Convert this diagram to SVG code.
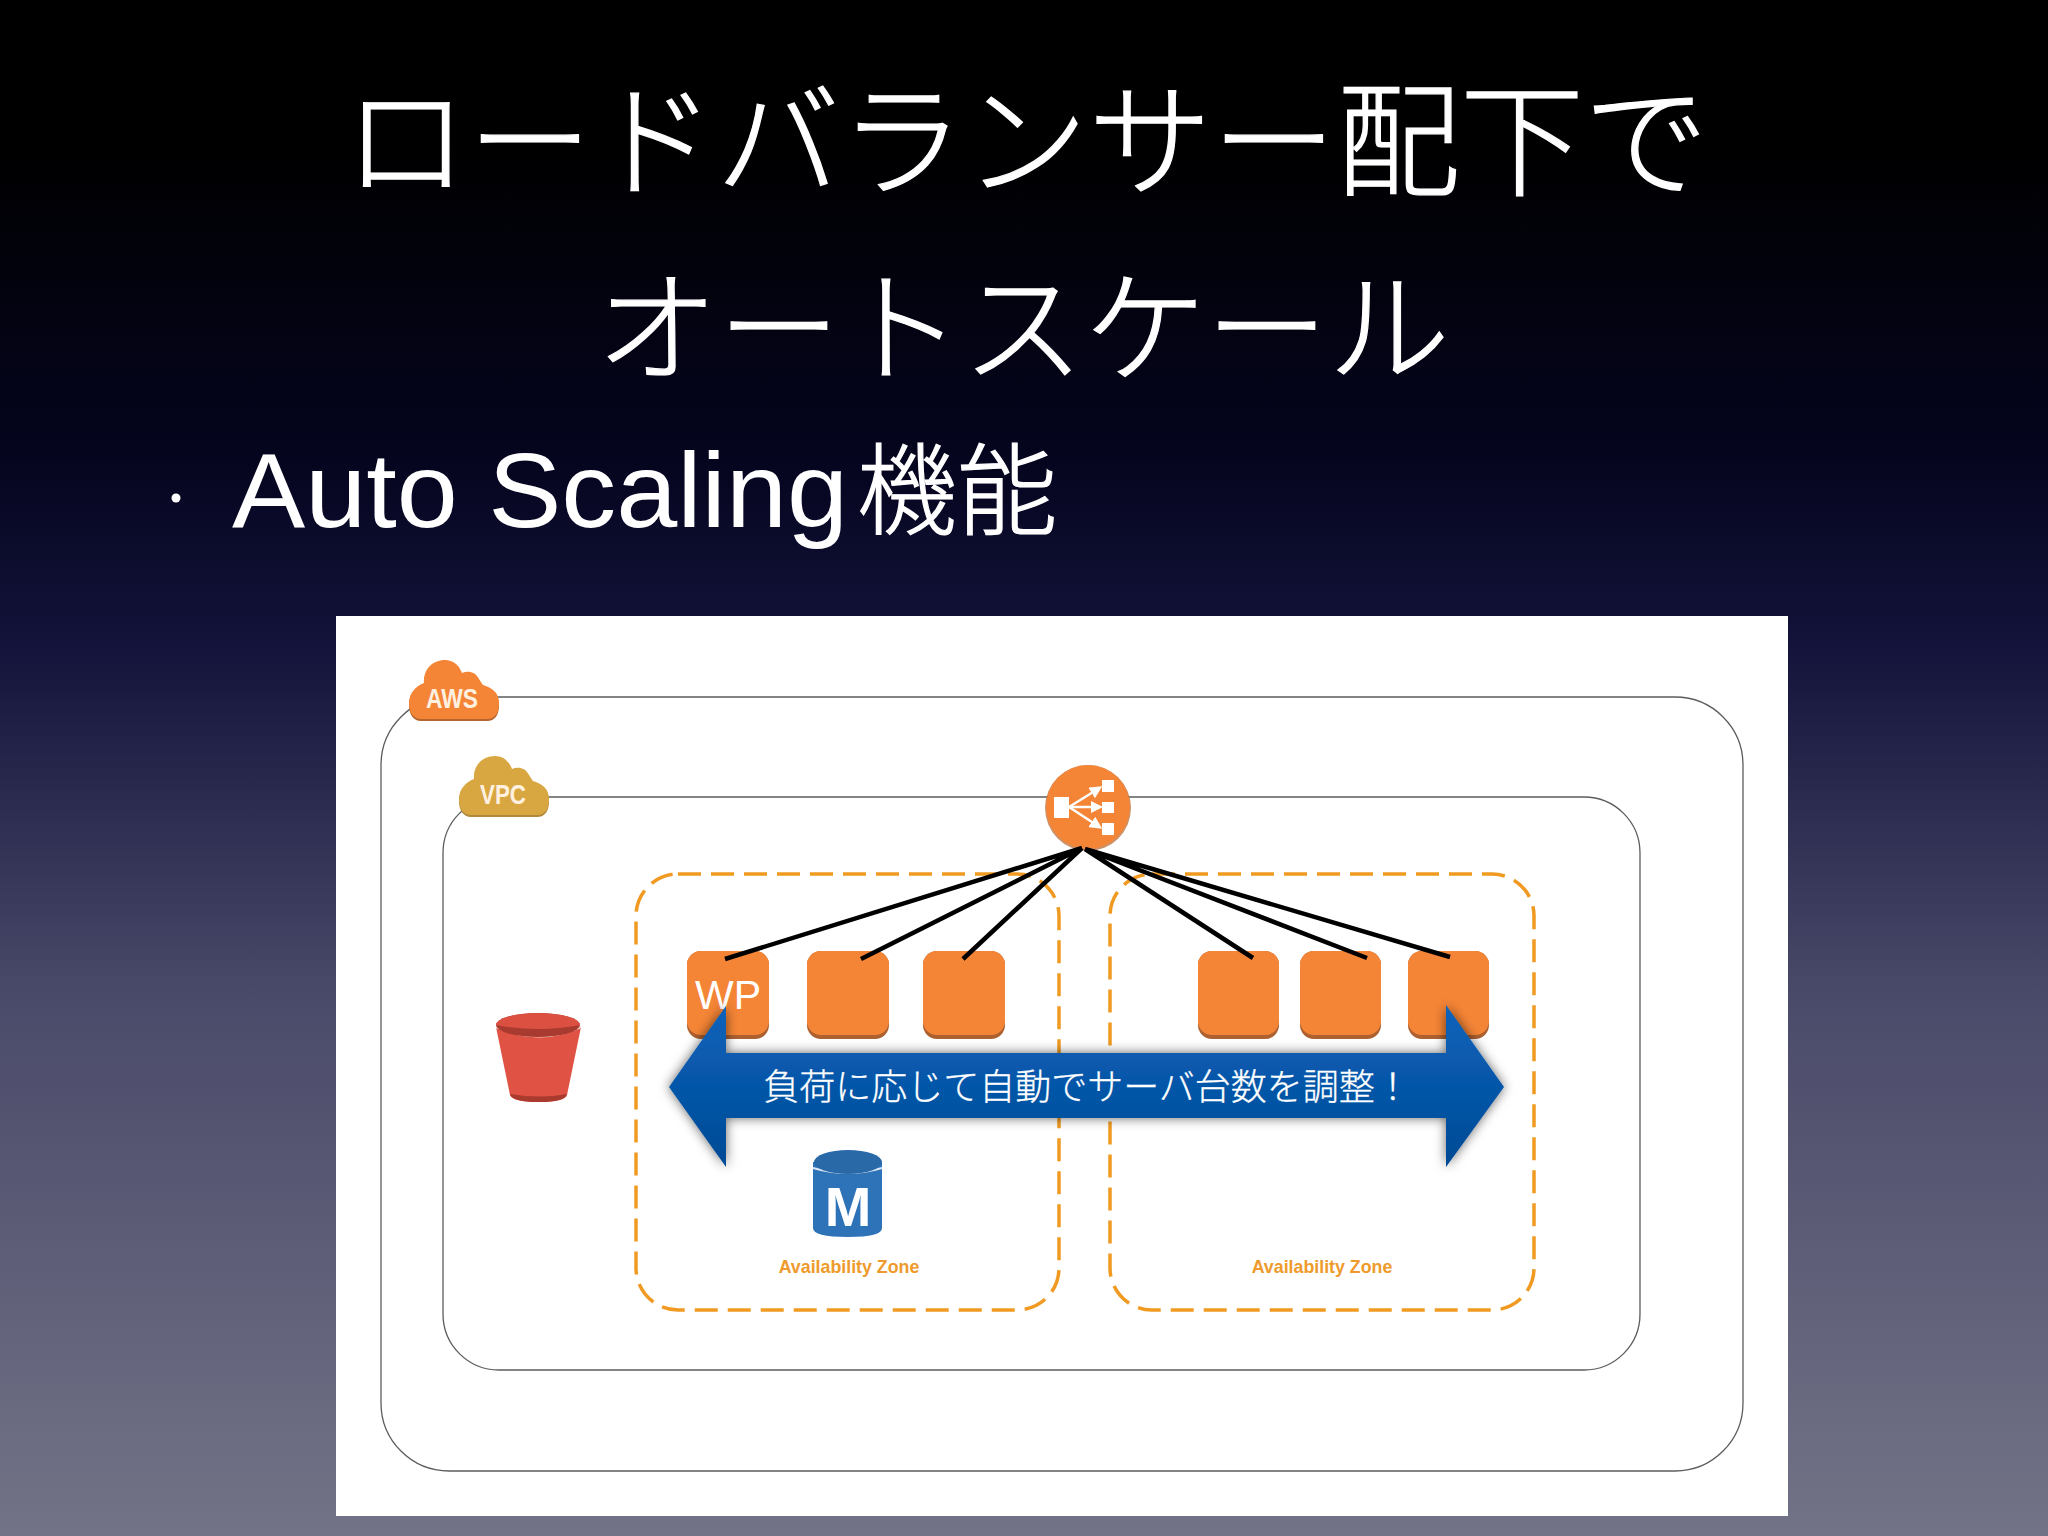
<svg xmlns="http://www.w3.org/2000/svg" xmlns:xlink="http://www.w3.org/1999/xlink" width="2048" height="1536" viewBox="0 0 2048 1536">
<style>
.jp{font-family:"Noto Sans CJK JP","Noto Sans",sans-serif;font-weight:300;fill:#fff;stroke:#fff;stroke-width:1.2}
.lat{font-family:"Liberation Sans",Arial,sans-serif;font-weight:400;fill:#fff}
.frame{fill:#fff;stroke:#5c5c5c;stroke-width:1.3}
.az{fill:none;stroke:#f09a22;stroke-width:3.5;stroke-dasharray:23 10}
.az-label{font-family:"Liberation Sans",Arial,sans-serif;font-weight:700;font-size:17.8px;fill:#ee9a2c;text-anchor:middle}
.srv{fill:#f58536}
.srv-s{fill:#ad6030}
.conn{stroke:#000;stroke-width:4.5;fill:none}
.cloud-label{font-family:"Liberation Sans",Arial,sans-serif;font-weight:700;fill:#fff0e0;font-size:28px}
</style>
<defs>
<linearGradient id="bg" x1="0" y1="0" x2="0" y2="1">
<stop offset="0" stop-color="#000"/>
<stop offset="0.09" stop-color="#000"/>
<stop offset="0.3" stop-color="#05051f"/>
<stop offset="0.42" stop-color="#13133b"/>
<stop offset="0.65" stop-color="#4a4a6a"/>
<stop offset="1" stop-color="#737387"/>
</linearGradient>
<linearGradient id="arrowFill" x1="0" y1="0" x2="0" y2="1">
<stop offset="0" stop-color="#0a63bb"/>
<stop offset="0.5" stop-color="#0656a8"/>
<stop offset="1" stop-color="#034a94"/>
</linearGradient>
<filter id="shadow" x="-5%" y="-15%" width="110%" height="130%">
<feDropShadow dx="0" dy="0" stdDeviation="6" flood-color="#000" flood-opacity="0.6"/>
</filter>
<marker id="lbHead" markerWidth="5" markerHeight="5" refX="3" refY="2.5" orient="auto"><path d="M0 0L5 2.5L0 5Z" fill="#fff"/></marker>
<path id="cloud" d="M12 59C4 59 0 52 0 43C0 33 7 26 15 23C14 9 24 0 36 0C44 0 50 5 53 13C59 10 67 12 70 19C72 22 73 24 74 25C84 28 90 33 90 43C90 53 86 59 78 59Z"/>
</defs>
<rect id="background" width="2048" height="1536" fill="url(#bg)"/>
<g id="title">
<text class="jp" x="1026" y="186" font-size="124" text-anchor="middle">ロードバランサー配下で</text>
<text class="jp" x="1023" y="372" font-size="122" text-anchor="middle">オートスケール</text>
</g>
<g id="bullet">
<circle cx="176" cy="498" r="4.5" fill="#fff"/>
<text class="lat" x="232" y="527" font-size="106" textLength="616" lengthAdjust="spacingAndGlyphs">Auto Scaling</text>
<text class="jp" x="857" y="527" font-size="100">機能</text>
</g>
<rect id="panel" x="336" y="616" width="1452" height="900" fill="#fff"/>
<g id="aws-frame"><rect class="frame" x="381" y="697" width="1362" height="774" rx="68"/></g>
<g id="vpc-frame"><rect class="frame" x="443" y="797" width="1197" height="573" rx="56"/></g>
<g id="az-left"><rect class="az" x="636" y="874" width="423" height="436" rx="42"/><text class="az-label" x="849" y="1273">Availability Zone</text></g>
<g id="az-right"><rect class="az" x="1110" y="874" width="424" height="436" rx="42"/><text class="az-label" x="1322" y="1273">Availability Zone</text></g>
<g id="aws-cloud">
<use xlink:href="#cloud" href="#cloud" x="409" y="662" fill="#b5652e"/>
<use xlink:href="#cloud" href="#cloud" x="409" y="660" fill="#f58536"/>
<text class="cloud-label" x="426" y="708" textLength="52" lengthAdjust="spacingAndGlyphs">AWS</text>
</g>
<g id="vpc-cloud">
<use xlink:href="#cloud" href="#cloud" x="459" y="758" fill="#b08a3a"/>
<use xlink:href="#cloud" href="#cloud" x="459" y="756" fill="#d9a741"/>
<text class="cloud-label" x="480" y="804" textLength="46" lengthAdjust="spacingAndGlyphs">VPC</text>
</g>
<g id="servers">
<g id="server-wp"><rect class="srv-s" x="687" y="951" width="82" height="88" rx="14"/><rect class="srv" x="687" y="951" width="82" height="84" rx="14"/>
<text x="728" y="1009" text-anchor="middle" font-size="41" font-family="'Liberation Sans',Arial,sans-serif" fill="#fff">WP</text></g>
<g id="server-2"><rect class="srv-s" x="807" y="951" width="82" height="88" rx="14"/><rect class="srv" x="807" y="951" width="82" height="84" rx="14"/></g>
<g id="server-3"><rect class="srv-s" x="923" y="951" width="82" height="88" rx="14"/><rect class="srv" x="923" y="951" width="82" height="84" rx="14"/></g>
<g id="server-4"><rect class="srv-s" x="1198" y="951" width="81" height="88" rx="14"/><rect class="srv" x="1198" y="951" width="81" height="84" rx="14"/></g>
<g id="server-5"><rect class="srv-s" x="1300" y="951" width="81" height="88" rx="14"/><rect class="srv" x="1300" y="951" width="81" height="84" rx="14"/></g>
<g id="server-6"><rect class="srv-s" x="1408" y="951" width="81" height="88" rx="14"/><rect class="srv" x="1408" y="951" width="81" height="84" rx="14"/></g>
</g>
<g id="load-balancer">
<circle cx="1088" cy="808" r="43" fill="#b5652e" opacity=".7"/>
<circle cx="1088" cy="807" r="42" fill="#f58536"/>
<g fill="#fff">
<rect x="1054" y="797" width="15" height="21"/>
<rect x="1102" y="780" width="12" height="12"/>
<rect x="1102" y="802" width="12" height="11"/>
<rect x="1102" y="823" width="12" height="12"/>
</g>
<g stroke="#fff" stroke-width="2.5" fill="none" marker-end="url(#lbHead)">
<path d="M1069 807L1098 789"/>
<path d="M1069 807H1098"/>
<path d="M1069 807L1098 826"/>
</g>
</g>
<g id="connectors">
<path class="conn" d="M1082 848L725 959M1082 848L861 959M1082 848L963 959M1085 849L1253 958M1085 849L1367 958M1085 849L1450 957"/>
</g>
<g id="s3-bucket">
<path d="M496 1027L510 1095Q512 1102 539 1102Q565 1102 567 1095L581 1027Z" fill="#e05243"/>
<path d="M510 1094Q512 1102 539 1102Q565 1102 567 1094Q540 1099 510 1094Z" fill="#a93a2e"/>
<path d="M496 1027Q539 1046 581 1027" stroke="#f4d9d4" stroke-width="2" fill="none"/>
<ellipse cx="538" cy="1025" rx="42" ry="12" fill="#a83a30"/>
<path d="M496 1025A42 12 0 0 1 580 1025Q539 1033 496 1025Z" fill="#dc5041"/>
</g>
<g id="rds">
<path d="M813 1162V1228Q813 1237 848 1237Q882 1237 882 1228V1162Z" fill="#2e73b8"/>
<path d="M813 1168Q848 1178 882 1168" stroke="#dbe7f3" stroke-width="2" fill="none"/>
<ellipse cx="848" cy="1162" rx="34" ry="12" fill="#2a69a8"/>
<text x="848" y="1226" text-anchor="middle" font-family="'Liberation Sans',sans-serif" font-weight="700" font-size="56" fill="#fff">M</text>
</g>
<g id="scale-arrow">
<path d="M669 1087L726 1006V1053H1446V1005L1504 1087L1446 1167V1118H726V1167Z" fill="url(#arrowFill)" filter="url(#shadow)"/>
<text class="jp" x="1087" y="1100" font-size="36" text-anchor="middle" style="stroke-width:.3">負荷に応じて自動でサーバ台数を調整！</text>
</g>
</svg>
